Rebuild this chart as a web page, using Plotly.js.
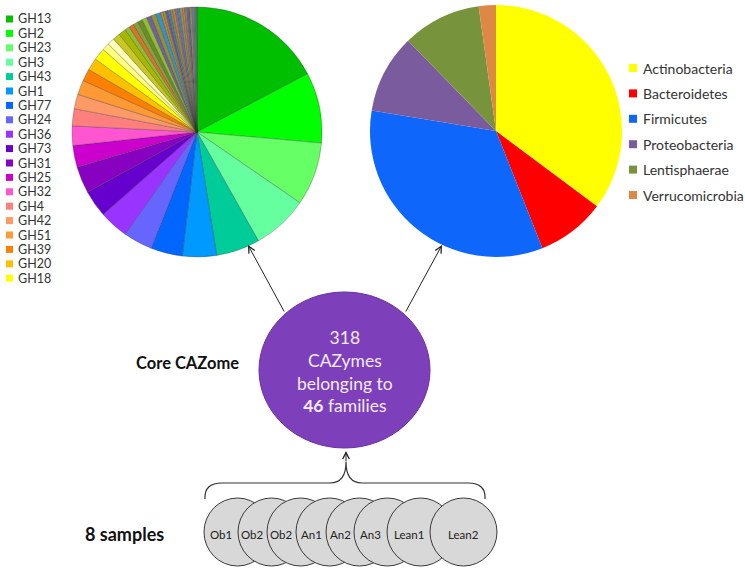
<!DOCTYPE html>
<html>
<head>
<meta charset="utf-8">
<script src="https://cdn.plot.ly/plotly-3.0.1.min.js"></script>
<style>html,body{margin:0;padding:0;background:#fff;}#chart{width:745px;height:574px;}</style>
</head>
<body>
<div id="chart"></div>
<script>
// ---- Data ----
const familyLabels = ["GH13","GH2","GH23","GH3","GH43","GH1","GH77","GH24","GH36","GH73","GH31","GH25","GH32","GH4","GH42","GH51","GH39","GH20","GH18",
  "Family 20","Family 21","Family 22","Family 23","Family 24","Family 25","Family 26","Family 27","Family 28","Family 29","Family 30","Family 31","Family 32",
  "Family 33","Family 34","Family 35","Family 36","Family 37","Family 38","Family 39","Family 40","Family 41","Family 42","Family 43","Family 44","Family 45","Family 46"];
const familyCounts = [55,29,26,23,18,14,13,12,12,11,11,9,8,7,6,6,5,5,5,
  3,3,3,3,2,2,2,2,2,2,2,2,1,1,1,1,1,1,1,1,1,1,1,1,1,1,1];
const familyColors = ["#00BF00","#00FF00","#66FF66","#66FFA0","#00CC99","#0099FF","#0066FF","#6666FF","#9933FF","#6600CC","#8800C0","#CC00CC","#FF55D0","#FF7F7F","#FF9966","#FF9933","#FF8000","#FFC000","#FFFF00",
  "#FFFF80","#FFFFB8","#C8C822","#A8B800","#90BE30","#D8742A","#86A03A","#6B8E23","#8FBF30","#7060A0","#939333","#3393C4","#D87E2E","#8A983C","#775598","#4A7EAE",
  "#849240","#C88438","#8070A0","#5282B2","#98984A","#C08040","#808080","#706090","#909050","#6080A0","#707070"];

const phylumLabels = ["Actinobacteria","Bacteroidetes","Firmicutes","Proteobacteria","Lentisphaerae","Verrucomicrobia"];
const phylumValues = [35.2,8.8,33.6,10.1,10.1,2.2];
const phylumColors = ["#FFFF00","#FF0000","#0F66FA","#7A5C9E","#77933C","#DD8845"];

const sampleLabels = ["Ob1","Ob2","Ob2","An1","An2","An3","Lean1","Lean2"];
const coreCount = 318;
const coreFamilies = 46;
const legendCount = 19;

// ---- Helpers (pixel -> paper) ----
const W = 745, H = 574;
const px = x => x / W;
const py = y => 1 - y / H;
const FONT = "Lato, 'Open Sans', sans-serif";

const data = [
  {
    type: "pie", labels: familyLabels, values: familyCounts, sort: false,
    direction: "clockwise", rotation: 0, textinfo: "none", showlegend: false,
    marker: {colors: familyColors, line: {color: "rgba(50,50,50,0.5)", width: 0.6}},
    domain: {x: [px(72), px(322)], y: [py(257), py(7)]}
  },
  {
    type: "pie", labels: phylumLabels, values: phylumValues, sort: false,
    direction: "clockwise", rotation: 0, textinfo: "none", showlegend: false,
    marker: {colors: phylumColors, line: {width: 0}},
    domain: {x: [px(370), px(622)], y: [py(257), py(5)]}
  }
];

const shapes = [];
const annotations = [];

// Left legend (first entries)
for (let i = 0; i < legendCount; i++) {
  const y = 19 + i * 14.4;
  shapes.push({type: "rect", xref: "paper", yref: "paper", x0: px(6), x1: px(13), y0: py(y + 3.5), y1: py(y - 3.5),
    fillcolor: familyColors[i], line: {width: 0}});
  annotations.push({xref: "paper", yref: "paper", x: px(16), y: py(y), xanchor: "left", yanchor: "middle",
    text: familyLabels[i], showarrow: false, font: {family: FONT, size: 12.5, color: "#333"}});
}
// Right legend
phylumLabels.forEach((lab, i) => {
  const y = 68 + i * 25.4;
  shapes.push({type: "rect", xref: "paper", yref: "paper", x0: px(629), x1: px(637), y0: py(y + 4), y1: py(y - 4),
    fillcolor: phylumColors[i], line: {width: 0}});
  annotations.push({xref: "paper", yref: "paper", x: px(641), y: py(y), xanchor: "left", yanchor: "middle",
    text: lab, showarrow: false, font: {family: FONT, size: 14, color: "#333"}});
});

// Core circle
shapes.push({type: "circle", xref: "paper", yref: "paper", x0: px(259), x1: px(430), y0: py(448), y1: py(292),
  fillcolor: "#7D40BA", line: {color: "#6A2EA2", width: 1}});
annotations.push({xref: "paper", yref: "paper", x: px(345), y: py(371), xanchor: "center", yanchor: "middle",
  text: coreCount + "<br>CAZymes<br>belonging to<br><b>" + coreFamilies + "</b> families", showarrow: false,
  font: {family: FONT, size: 17.5, color: "#F4ECFA"}});
annotations.push({xref: "paper", yref: "paper", x: px(241), y: py(363), xanchor: "right", yanchor: "middle",
  text: "<b>Core CAZome</b>", showarrow: false, font: {family: FONT, size: 16.5, color: "#111"}});

// Arrows to pies
annotations.push({xref: "paper", yref: "paper", x: px(248), y: py(245), ax: 37, ay: 68, axref: "pixel", ayref: "pixel",
  text: "", showarrow: true, arrowhead: 5, arrowsize: 1.3, arrowwidth: 1, arrowcolor: "#222"});
annotations.push({xref: "paper", yref: "paper", x: px(442), y: py(245), ax: -37, ay: 68, axref: "pixel", ayref: "pixel",
  text: "", showarrow: true, arrowhead: 5, arrowsize: 1.3, arrowwidth: 1, arrowcolor: "#222"});
annotations.push({xref: "paper", yref: "paper", x: px(346), y: py(451), ax: 0, ay: 12, axref: "pixel", ayref: "pixel",
  text: "", showarrow: true, arrowhead: 5, arrowsize: 1.3, arrowwidth: 1, arrowcolor: "#222"});

// Brace
const P = (x, y) => px(x).toFixed(5) + "," + py(y).toFixed(5);
const brace = "M" + P(205, 499) + " Q" + P(204, 483) + " " + P(222, 483) + " L" + P(330, 483) +
  " Q" + P(346, 483) + " " + P(346, 462) + " Q" + P(346, 483) + " " + P(362, 483) + " L" + P(468, 483) +
  " Q" + P(486, 483) + " " + P(485, 499);
shapes.push({type: "path", xref: "paper", yref: "paper", path: brace, line: {color: "#333", width: 1.2}});

// Sample circles
const lefts = [204, 238, 267, 296, 326, 354, 387, 430];
const dia = 67;
lefts.forEach((l, i) => {
  shapes.push({type: "circle", xref: "paper", yref: "paper", x0: px(l), x1: px(l + dia), y0: py(566), y1: py(498),
    fillcolor: "#D8D8D8", line: {color: "#3A3A3A", width: 1}});
});
sampleLabels.forEach((lab, i) => {
  const x = i < lefts.length - 1 ? (lefts[i] + lefts[i + 1]) / 2 : lefts[i] + dia / 2;
  annotations.push({xref: "paper", yref: "paper", x: px(x), y: py(534), xanchor: "center", yanchor: "middle",
    text: lab, showarrow: false, font: {family: FONT, size: 11.5, color: "#222"}});
});
annotations.push({xref: "paper", yref: "paper", x: px(124), y: py(534), xanchor: "center", yanchor: "middle",
  text: "<b>" + sampleLabels.length + " samples</b>", showarrow: false, font: {family: FONT, size: 18, color: "#111"}});

const layout = {
  width: W, height: H, margin: {l: 0, r: 0, t: 0, b: 0},
  paper_bgcolor: "#fff", plot_bgcolor: "#fff",
  showlegend: false, shapes: shapes, annotations: annotations
};
Plotly.newPlot("chart", data, layout, {staticPlot: true, displayModeBar: false});
</script>
</body>
</html>
